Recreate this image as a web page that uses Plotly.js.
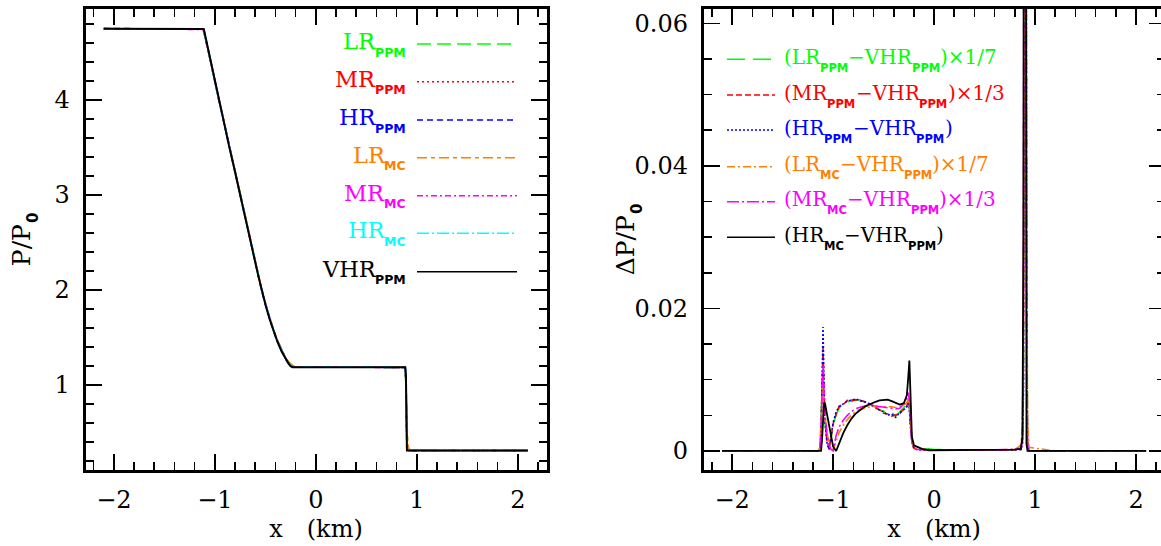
<!DOCTYPE html>
<html><head><meta charset="utf-8">
<script src="https://cdn.plot.ly/plotly-3.0.1.min.js"></script>
<style>html,body{margin:0;padding:0;overflow:hidden;background:#fff}#chart{width:1170px;height:546px}</style>
</head><body><div id="chart"></div>
<script>
// ---------- Left panel data: P/P0 vs x (km) ----------
const xP = [-2.1, -1.15, -1.13, -1.12, -1.11, -1.10, -1.08, -1.06, -1.01, -0.96, -0.91, -0.86, -0.81, -0.76, -0.71, -0.66, -0.61, -0.57, -0.54, -0.50, -0.46, -0.42, -0.38, -0.34, -0.30, -0.27, -0.25, -0.24, -0.23, -0.21, -0.18, 0.5, 0.86, 0.875, 0.885, 0.892, 0.898, 0.902, 0.91, 0.92, 0.935, 1.2, 2.1];
const pLRppm = [4.75, 4.75, 4.745, 4.735, 4.715, 4.675, 4.59, 4.495, 4.25, 4.005, 3.765, 3.525, 3.295, 3.065, 2.825, 2.585, 2.345, 2.157, 2.018, 1.858, 1.708, 1.578, 1.463, 1.363, 1.283, 1.237, 1.216, 1.207, 1.2, 1.193, 1.19, 1.188, 1.188, 1.185, 1.17, 0.98, 0.60, 0.43, 0.34, 0.32, 0.311, 0.31, 0.31];
const pMRppm = [4.75, 4.75, 4.749, 4.745, 4.73, 4.685, 4.598, 4.5, 4.25, 4.002, 3.762, 3.522, 3.292, 3.062, 2.822, 2.582, 2.342, 2.153, 2.013, 1.853, 1.703, 1.573, 1.458, 1.358, 1.278, 1.229, 1.205, 1.197, 1.192, 1.189, 1.188, 1.188, 1.188, 1.187, 1.18, 1.02, 0.52, 0.37, 0.318, 0.311, 0.31, 0.31, 0.31];
const pHRppm = [4.75, 4.75, 4.75, 4.749, 4.742, 4.695, 4.6, 4.5, 4.25, 4.0, 3.76, 3.52, 3.29, 3.06, 2.82, 2.58, 2.34, 2.151, 2.011, 1.851, 1.701, 1.571, 1.456, 1.356, 1.276, 1.226, 1.2, 1.193, 1.19, 1.188, 1.188, 1.188, 1.188, 1.188, 1.186, 1.06, 0.46, 0.33, 0.312, 0.31, 0.31, 0.31, 0.31];
const pLRmc  = [4.75, 4.75, 4.746, 4.737, 4.718, 4.678, 4.592, 4.496, 4.252, 4.007, 3.768, 3.528, 3.298, 3.068, 2.828, 2.59, 2.35, 2.162, 2.024, 1.865, 1.715, 1.585, 1.47, 1.37, 1.29, 1.243, 1.222, 1.212, 1.204, 1.196, 1.191, 1.188, 1.19, 1.186, 1.175, 1.05, 0.70, 0.50, 0.38, 0.33, 0.315, 0.31, 0.31];
const pMRmc  = [4.75, 4.75, 4.749, 4.744, 4.728, 4.683, 4.596, 4.498, 4.251, 4.003, 3.763, 3.523, 3.293, 3.063, 2.823, 2.584, 2.344, 2.155, 2.015, 1.856, 1.706, 1.576, 1.461, 1.361, 1.281, 1.232, 1.209, 1.2, 1.194, 1.19, 1.188, 1.188, 1.188, 1.187, 1.182, 1.04, 0.55, 0.39, 0.322, 0.312, 0.31, 0.31, 0.31];
const pHRmc  = [4.75, 4.75, 4.75, 4.749, 4.741, 4.694, 4.6, 4.5, 4.25, 4.001, 3.761, 3.521, 3.291, 3.061, 2.821, 2.581, 2.341, 2.152, 2.012, 1.852, 1.702, 1.572, 1.457, 1.357, 1.277, 1.227, 1.201, 1.194, 1.19, 1.188, 1.188, 1.188, 1.188, 1.188, 1.186, 1.07, 0.47, 0.335, 0.313, 0.31, 0.31, 0.31, 0.31];
const pVHRppm= [4.75, 4.75, 4.75, 4.75, 4.748, 4.70, 4.60, 4.50, 4.25, 4.00, 3.76, 3.52, 3.29, 3.06, 2.82, 2.58, 2.34, 2.15, 2.01, 1.85, 1.70, 1.57, 1.455, 1.355, 1.275, 1.225, 1.198, 1.189, 1.188, 1.188, 1.188, 1.188, 1.188, 1.188, 1.188, 1.10, 0.40, 0.31, 0.31, 0.31, 0.31, 0.31, 0.31];

// ---------- Right panel data: scaled differences dP/P0 ----------
const xD = [-2.1, -1.15, -1.13, -1.12, -1.11, -1.10, -1.09, -1.08, -1.06, -1.04, -1.02, -1.0, -0.97, -0.94, -0.90, -0.86, -0.82, -0.78, -0.74, -0.70, -0.66, -0.62, -0.58, -0.54, -0.50, -0.46, -0.42, -0.38, -0.34, -0.30, -0.27, -0.255, -0.245, -0.235, -0.22, -0.20, -0.17, -0.12, -0.05, 0.0, 0.4, 0.8, 0.86, 0.875, 0.885, 0.895, 0.905, 0.915, 0.925, 0.94, 1.2, 2.1];
const dLRppm = [0, 0, 0.0008, 0.004, 0.0095, 0.0118, 0.0075, 0.0038, 0.0012, 0.0006, 0.0018, 0.0036, 0.0051, 0.006, 0.0067, 0.0068, 0.0072, 0.0071, 0.0072, 0.0069, 0.0068, 0.0064, 0.0063, 0.0057, 0.0056, 0.005, 0.0054, 0.0049, 0.0055, 0.0061, 0.0066, 0.0068, 0.0062, 0.0042, 0.0016, 0.0005, 0.0003, 0.0002, 0.0003, 0.0002, 0.0001, 0.0002, 0.0003, 0.0015, 0.012, 0.12, 0.2, 0.045, 0.002, 0, 0, 0];
const dMRppm = [0, 0, 0.0003, 0.0025, 0.009, 0.0145, 0.0085, 0.0045, 0.0012, 0.0003, 0.002, 0.0038, 0.0052, 0.0063, 0.0065, 0.0071, 0.007, 0.0072, 0.007, 0.007, 0.0066, 0.0065, 0.006, 0.0058, 0.0053, 0.0052, 0.0049, 0.005, 0.0052, 0.0059, 0.0063, 0.0072, 0.0062, 0.0038, 0.0014, 0.0004, 0.0002, 0.0002, 0.0001, 0.0001, 0.0001, 0.0002, 0.0002, 0.0012, 0.01, 0.14, 0.22, 0.035, 0.001, 0, 0, 0];
const dHRppm = [0, 0, 0.0002, 0.002, 0.009, 0.0174, 0.009, 0.004, 0.001, 0.0002, 0.0022, 0.004, 0.0055, 0.0062, 0.0066, 0.007, 0.0071, 0.0073, 0.0071, 0.0069, 0.0068, 0.0064, 0.0062, 0.0057, 0.0055, 0.005, 0.0052, 0.0047, 0.0054, 0.0058, 0.0062, 0.0067, 0.0058, 0.0035, 0.0012, 0.0003, 0.0002, 0.0001, 0.0002, 0.0001, 0.0001, 0.0001, 0.0002, 0.001, 0.008, 0.15, 0.25, 0.03, 0.001, 0, 0, 0];
const dLRmc  = [0, 0, 0.0005, 0.003, 0.007, 0.009, 0.0072, 0.0048, 0.0025, 0.0012, 0.0004, 0.0002, 0.0014, 0.0026, 0.0036, 0.0044, 0.005, 0.0055, 0.0058, 0.006, 0.0061, 0.0062, 0.0062, 0.0063, 0.0063, 0.0062, 0.0062, 0.0061, 0.0062, 0.0064, 0.0068, 0.0074, 0.0063, 0.004, 0.0015, 0.0005, 0.0003, 0.0002, 0.0001, 0.0001, 0.0001, 0.0002, 0.0008, 0.004, 0.02, 0.12, 0.18, 0.05, 0.004, 0.0005, 0, 0];
const dMRmc  = [0, 0, 0.0003, 0.0025, 0.008, 0.012, 0.008, 0.005, 0.0022, 0.0008, 0.0002, 0.0, 0.0022, 0.0034, 0.0043, 0.005, 0.0055, 0.0059, 0.0061, 0.0063, 0.0064, 0.0064, 0.0063, 0.0062, 0.0061, 0.006, 0.0059, 0.0059, 0.006, 0.0066, 0.0074, 0.0082, 0.007, 0.0042, 0.0013, 0.0004, 0.0002, 0.0002, 0.0001, 0.0001, 0.0001, 0.0002, 0.0004, 0.002, 0.02, 0.2, 0.2, 0.02, 0.001, 0, 0, 0];
const dHRmc  = [0, 0, 0, 0, 0.0015, 0.0045, 0.0068, 0.0066, 0.005, 0.0033, 0.0017, 0.0006, 0.0, 0.0012, 0.0025, 0.0036, 0.0045, 0.0052, 0.0057, 0.0061, 0.0064, 0.0067, 0.0069, 0.0071, 0.0072, 0.0072, 0.0070, 0.0067, 0.0065, 0.0067, 0.0078, 0.0105, 0.0127, 0.0085, 0.002, 0.0008, 0.0006, 0.0003, 0.0001, 0.0001, 0.0001, 0.0002, 0.0003, 0.002, 0.03, 0.22, 0.16, 0.001, 0, 0, 0, 0];

// tick labels
const xTicks = [-2, -1, 0, 1, 2];
const xTickText = ['\u22122', '\u22121', '0', '1', '2'];
const yLTicks = [1, 2, 3, 4];
const yRTicks = [0, 0.02, 0.04, 0.06];
const yRTickText = ['0', '0.02', '0.04', '0.06'];

// legend labels: [text, isSubscript] pieces
const leftLabels = [
  [['LR', 0], ['PPM', 1]], [['MR', 0], ['PPM', 1]], [['HR', 0], ['PPM', 1]],
  [['LR', 0], ['MC', 1]], [['MR', 0], ['MC', 1]], [['HR', 0], ['MC', 1]], [['VHR', 0], ['PPM', 1]]
];
const rightLabels = [
  [['(LR', 0], ['PPM', 1], ['\u2212VHR', 0], ['PPM', 1], [')\u00d71/7', 0]],
  [['(MR', 0], ['PPM', 1], ['\u2212VHR', 0], ['PPM', 1], [')\u00d71/3', 0]],
  [['(HR', 0], ['PPM', 1], ['\u2212VHR', 0], ['PPM', 1], [')', 0]],
  [['(LR', 0], ['MC', 1], ['\u2212VHR', 0], ['PPM', 1], [')\u00d71/7', 0]],
  [['(MR', 0], ['MC', 1], ['\u2212VHR', 0], ['PPM', 1], [')\u00d71/3', 0]],
  [['(HR', 0], ['MC', 1], ['\u2212VHR', 0], ['PPM', 1], [')', 0]]
];

// ---------- styling ----------
const W = 1170, H = 546;
const GREEN = '#00ff00', RED = '#ff0000', BLUE = '#0000ff', ORANGE = '#ff8000', MAGENTA = '#ff00ff', CYAN = '#00ffff', BLACK = '#000000';
const SERIF = 'DejaVu Serif';
const SANS = 'DejaVu Sans';
const TICK_SIZE = 24, TITLE_SIZE = 25, TSUB_SIZE = 15;
const LEFT_FONT = {main: 22.5, sub: 12.5};
const RIGHT_FONT = {main: 20, sub: 11.5};

const leftStyle = [
  [GREEN, '14px,6px'], [RED, '2px,3px'], [BLUE, '6px,4px'],
  [ORANGE, '10px,4px,4px,4px'], [MAGENTA, '6px,3px,2px,3px'], [CYAN, '12px,3px,2px,3px'], [BLACK, 'solid']
];
const rightStyle = [
  [GREEN, '18px,8px'], [RED, '6px,3px'], [BLUE, '2px,2px'],
  [ORANGE, '8px,3px,2px,3px'], [MAGENTA, '12px,3px,2px,3px'], [BLACK, 'solid']
];
const leftData = [pLRppm, pMRppm, pHRppm, pLRmc, pMRmc, pHRmc, pVHRppm];
const rightData = [dLRppm, dMRppm, dHRppm, dLRmc, dMRmc, dHRmc];

const traces = [];
leftData.forEach((arr, i) => traces.push({
  x: xP, y: arr, xaxis: 'x', yaxis: 'y', type: 'scatter', mode: 'lines',
  line: {color: leftStyle[i][0], width: i === 6 ? 2 : 1.8, dash: leftStyle[i][1]}, showlegend: false, hoverinfo: 'skip'
}));
rightData.forEach((arr, i) => traces.push({
  x: xD, y: arr, xaxis: 'x2', yaxis: 'y2', type: 'scatter', mode: 'lines',
  line: {color: rightStyle[i][0], width: i === 5 ? 1.8 : 1.6, dash: rightStyle[i][1]}, showlegend: false, hoverinfo: 'skip'
}));

const px = p => p / W, py = p => 1 - p / H;
const ctx = document.createElement('canvas').getContext('2d');
function tw(t, size, family, bold) {
  ctx.font = (bold ? 'bold ' : '') + size + 'px "' + family + '"';
  return ctx.measureText(t).width;
}
const pieceW = (p, f) => p[1] ? tw(p[0], f.sub, SANS, true) : tw(p[0], f.main, SERIF, false);

function axisBase(extra) {
  return Object.assign({
    showgrid: false, zeroline: false, showline: true, linecolor: '#000', linewidth: 3,
    mirror: 'allticks', ticks: 'inside', ticklen: 16, tickwidth: 1.6, tickcolor: '#000',
    tickfont: {family: SERIF, size: TICK_SIZE, color: '#000'}
  }, extra);
}
const minorX = {dtick: 0.2, tick0: 0, ticks: 'inside', ticklen: 8, tickwidth: 1.6, tickcolor: '#000'};

const yDom = [1 - 470.2 / H, 1 - 8.8 / H];
const layout = {
  width: W, height: H, margin: {l: 0, r: 0, t: 0, b: 0},
  paper_bgcolor: '#fff', plot_bgcolor: '#fff', showlegend: false,
  font: {family: SERIF, color: '#000'},
  xaxis: axisBase({
    domain: [px(85.5), px(546.5)], range: [-2.281, 2.284], anchor: 'y',
    tickvals: xTicks, ticktext: xTickText, ticklabelstandoff: 6, minor: minorX,
    title: {text: 'x\u2003(km)', standoff: 8, font: {family: SERIF, size: 24, color: '#000'}}
  }),
  yaxis: axisBase({
    domain: yDom, range: [0.103, 4.96], anchor: 'x',
    tickvals: yLTicks, ticklabelstandoff: 8,
    minor: {dtick: 0.2, tick0: 0, ticks: 'inside', ticklen: 8, tickwidth: 1.6, tickcolor: '#000'}
  }),
  xaxis2: axisBase({
    domain: [px(703.8), px(1164.5)], range: [-2.281, 2.282], anchor: 'y2',
    tickvals: xTicks, ticktext: xTickText, ticklabelstandoff: 6, minor: minorX,
    title: {text: 'x\u2003(km)', standoff: 8, font: {family: SERIF, size: 24, color: '#000'}}
  }),
  yaxis2: axisBase({
    domain: yDom, range: [-0.0027, 0.06204], anchor: 'x2',
    tickvals: yRTicks, ticktext: yRTickText, ticklabelstandoff: 8,
    minor: {dtick: 0.005, tick0: 0, ticks: 'inside', ticklen: 8, tickwidth: 1.6, tickcolor: '#000'}
  }),
  annotations: [], shapes: []
};

function addPiece(p, xLeft, lineY, color, f) {
  const sub = p[1];
  const size = sub ? f.sub : f.main;
  const baseline = sub ? lineY + 12.5 : lineY + 4.7;
  layout.annotations.push({
    xref: 'paper', yref: 'paper', x: px(xLeft), y: py(baseline - 0.346 * size),
    xanchor: 'left', yanchor: 'middle', showarrow: false, borderpad: 0, borderwidth: 0,
    text: sub ? '<b>' + p[0] + '</b>' : p[0],
    font: {family: sub ? SANS : SERIF, size: size, color: color}
  });
}

// left legend: text right-aligned, line sample on the right
const leftRowsY = [44, 81.7, 120, 157.7, 195.7, 233.3, 271.7];
leftLabels.forEach((pieces, i) => {
  const y = leftRowsY[i], color = leftStyle[i][0];
  const total = pieces.reduce((s, p) => s + pieceW(p, LEFT_FONT), 0);
  let x = 406 - total;
  pieces.forEach(p => { addPiece(p, x, y, color, LEFT_FONT); x += pieceW(p, LEFT_FONT); });
  layout.shapes.push({
    type: 'line', xref: 'paper', yref: 'paper', x0: px(417), x1: px(517), y0: py(y), y1: py(y),
    line: {color: color, width: 1.6, dash: leftStyle[i][1]}
  });
});

// right legend: line sample on the left, text on the right
const rightRowsY = [59.3, 95, 130, 166.7, 201.7, 237.3];
rightLabels.forEach((pieces, i) => {
  const y = rightRowsY[i], color = rightStyle[i][0];
  layout.shapes.push({
    type: 'line', xref: 'paper', yref: 'paper', x0: px(727), x1: px(775), y0: py(y), y1: py(y),
    line: {color: color, width: 1.6, dash: rightStyle[i][1]}
  });
  let x = 784;
  pieces.forEach(p => { addPiece(p, x, y, color, RIGHT_FONT); x += pieceW(p, RIGHT_FONT); });
});

// rotated y-axis titles built from a main piece and a subscript piece
function yTitle(mainText, baselineX, centerY) {
  const w1 = tw(mainText, TITLE_SIZE, SERIF, false);
  const w2 = tw('0', TSUB_SIZE, SANS, true);
  const bottom = centerY + (w1 + w2) / 2;
  layout.annotations.push({
    xref: 'paper', yref: 'paper', x: px(baselineX - 0.346 * TITLE_SIZE), y: py(bottom - w1 / 2),
    xanchor: 'center', yanchor: 'middle', textangle: -90, showarrow: false, borderpad: 0, borderwidth: 0,
    text: mainText, font: {family: SERIF, size: TITLE_SIZE, color: '#000'}
  });
  layout.annotations.push({
    xref: 'paper', yref: 'paper', x: px(baselineX + 8.5 - 0.346 * TSUB_SIZE), y: py(bottom - w1 - w2 / 2 - 1),
    xanchor: 'center', yanchor: 'middle', textangle: -90, showarrow: false, borderpad: 0, borderwidth: 0,
    text: '<b>0</b>', font: {family: SANS, size: TSUB_SIZE, color: '#000'}
  });
}
yTitle('P/P', 29.6, 240);
yTitle('\u0394P/P', 633.7, 240);

Plotly.newPlot('chart', traces, layout, {displayModeBar: false, staticPlot: true});
</script>
</body></html>
